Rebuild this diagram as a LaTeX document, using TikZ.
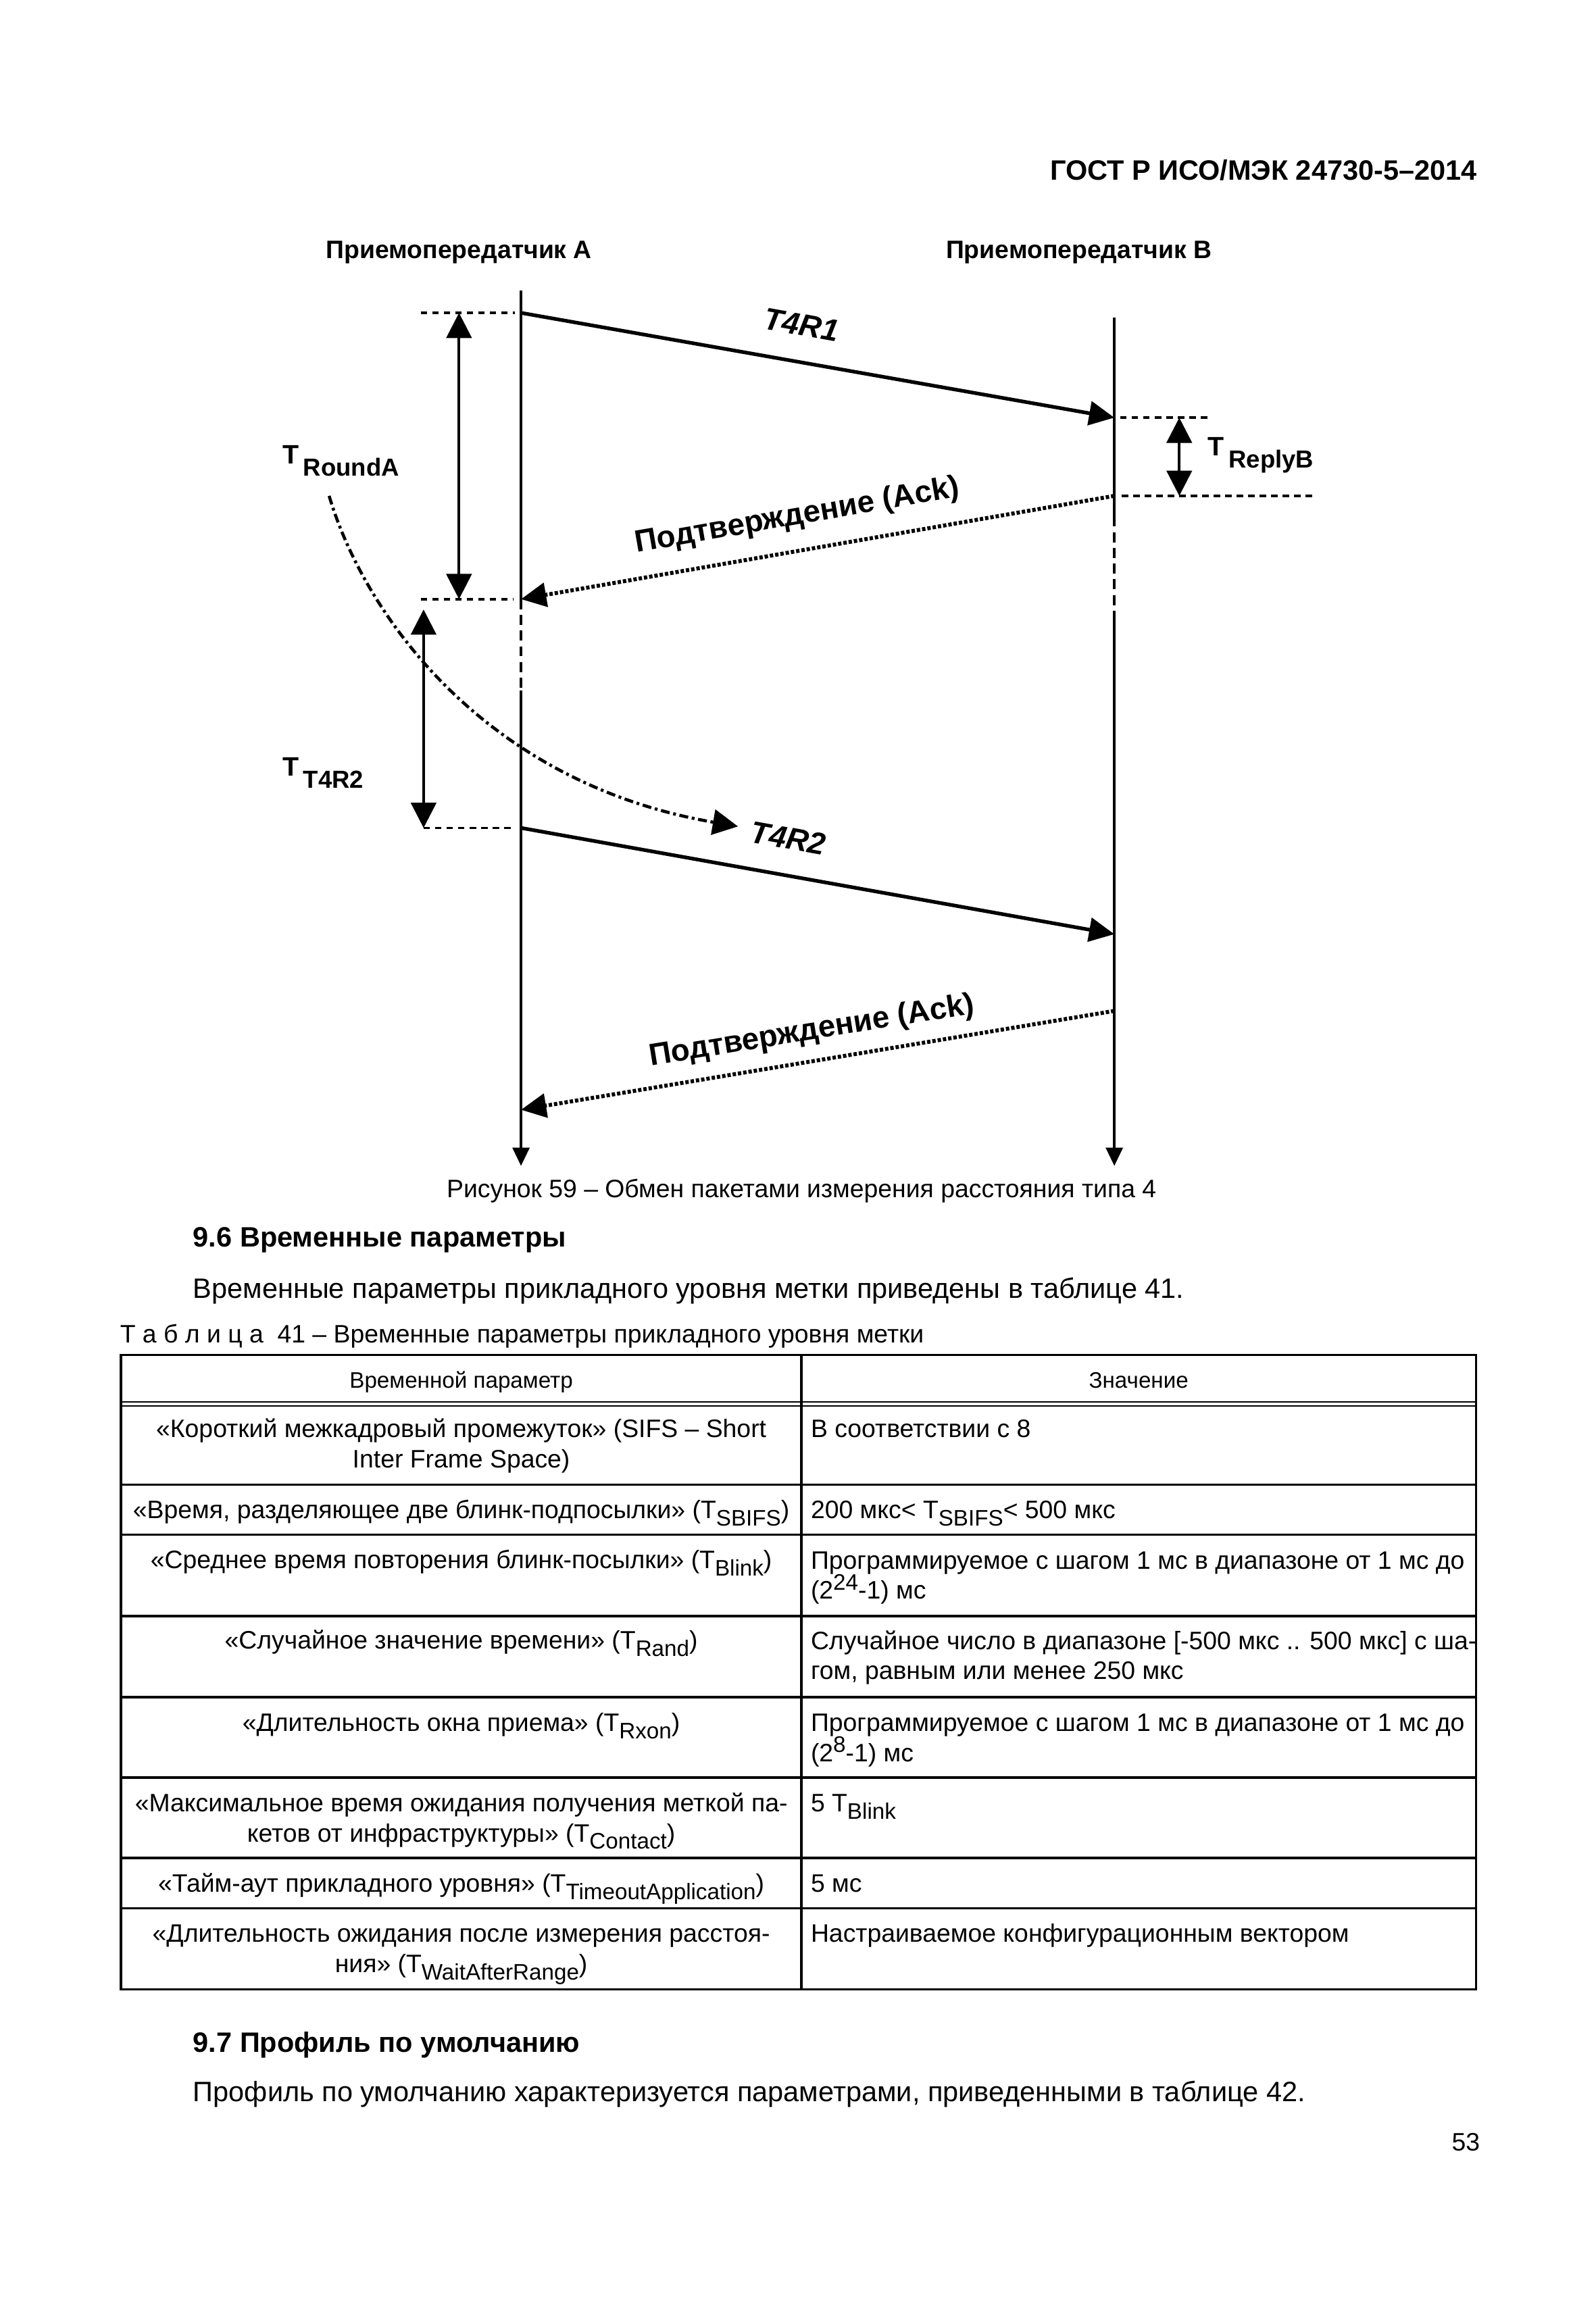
\documentclass[tikz,border=0pt]{standalone}
\usepackage{fontspec}
\setmainfont{Liberation Sans}
\usepackage{tikz}
\usetikzlibrary{arrows.meta, positioning}

\newcommand{\tsb}[1]{\raisebox{-2.6pt}{\fontsize{8}{9}\selectfont #1}}
\newcommand{\tsp}[1]{\raisebox{3.2pt}{\fontsize{8}{9}\selectfont #1}}
\newcommand{\tlab}[1]{T\kern1.6pt\raisebox{-4.2pt}{\fontsize{8.8}{10}\selectfont #1}}

\tikzstyle{lifeline} = [line width=0.9pt, -{Triangle[length=6.5pt,width=6pt]}]
\tikzstyle{waitline} = [line width=0.9pt, dash pattern=on 3.6pt off 2pt]
\tikzstyle{packet} = [line width=1.3pt, -{Triangle[length=9pt,width=8.5pt]}]
\tikzstyle{ack} = [line width=1.4pt, dash pattern=on 1.2pt off 0.7pt, -{Triangle[length=9pt,width=8.5pt]}]
\tikzstyle{guide} = [line width=0.9pt, dash pattern=on 2.3pt off 1.8pt]
\tikzstyle{interval} = [line width=0.95pt, {Triangle[length=9pt,width=9pt]}-{Triangle[length=9pt,width=9pt]}]
\tikzstyle{loopback} = [line width=1.1pt, dash pattern=on 3.2pt off 1.3pt on 1pt off 1.3pt, -{Triangle[length=9pt,width=9pt]}]
\tikzstyle{packetlabel} = [font=\fontsize{11}{13}\selectfont\bfseries\itshape]
\tikzstyle{acklabel} = [font=\fontsize{11}{13}\selectfont\bfseries]
\tikzstyle{timelabel} = [font=\fontsize{9.5}{11}\selectfont\bfseries, anchor=base west, inner sep=0pt]
\tikzstyle{devtitle} = [font=\fontsize{9}{11}\selectfont\bfseries, anchor=base, inner sep=0pt]
\tikzstyle{bodytext} = [font=\fontsize{10}{12}\selectfont, anchor=base west, inner sep=0pt]
\tikzstyle{sectitle} = [font=\fontsize{10}{12}\selectfont\bfseries, anchor=base west, inner sep=0pt]
\tikzstyle{cellc} = [font=\fontsize{9}{10.75}\selectfont, align=center, anchor=base, inner sep=0pt]
\tikzstyle{celll} = [font=\fontsize{9}{10.75}\selectfont, align=left, anchor=base west, inner sep=0pt]
\tikzstyle{tabrule} = [line width=0.8pt]

\begin{document}
\begin{tikzpicture}[x=0.185mm, y=-0.185mm]
\fill[white] (0,0) rectangle (1081,1568);
\useasboundingbox (0,0) rectangle (1081,1568);

\node[sectitle, anchor=base east] (std) at (1001,122) {ГОСТ Р ИСО/МЭК 24730-5–2014};

% transceivers
\node[devtitle] (devA) at (311,175) {Приемопередатчик А};
\node[devtitle] (devB) at (731,175) {Приемопередатчик В};

\coordinate (aTop) at (353,197);
\coordinate (a1) at (353,212);
\coordinate (a2) at (353,406);
\coordinate (aW) at (353,468);
\coordinate (a3) at (353,561);
\coordinate (a4) at (353,752);
\coordinate (aBot) at (353,790);
\coordinate (bTop) at (755,215);
\coordinate (b1) at (755,283);
\coordinate (b2) at (755,336);
\coordinate (bS) at (755,350);
\coordinate (bW) at (755,414);
\coordinate (b3) at (755,633);
\coordinate (b4) at (755,685);
\coordinate (bBot) at (755,790);

\draw[line width=0.9pt] (aTop) -- (a2);
\draw[waitline] (a2) -- (aW);
\draw[lifeline] (aW) -- (aBot);
\draw[line width=0.9pt] (bTop) -- (bS);
\draw[waitline] (bS) -- (bW);
\draw[lifeline] (bW) -- (bBot);

% time marks
\coordinate (g1) at (285,212);
\coordinate (g2) at (285,406);
\coordinate (g3) at (287,561);
\coordinate (g4) at (821,283);
\coordinate (g5) at (889,336);
\draw[guide] (g1) -- (349,212);
\draw[guide] (g2) -- (348,406);
\draw[guide] (g3) -- (349,561);
\draw[guide] (759,283) -- (g4);
\draw[guide] (760,336) -- (g5);

\coordinate (rA1) at (311,212);
\coordinate (rA2) at (311,406);
\coordinate (rB1) at (799,283);
\coordinate (rB2) at (799,336);
\coordinate (rT1) at (287,413);
\coordinate (rT2) at (287,561);
\draw[interval] (rA1) -- (rA2);
\draw[interval] (rB1) -- (rB2);
\draw[interval] (rT1) -- (rT2);

\node[timelabel] (tRound) at (191,314.5) {\tlab{RoundA}};
\node[timelabel] (tReply) at (818,309) {\tlab{ReplyB}};
\node[timelabel] (tT4R2) at (191,526) {\tlab{T4R2}};

% packets
\draw[packet] (a1) -- (b1);
\draw[ack] (b2) -- (a2);
\draw[packet] (a3) -- (b3);
\draw[ack] (b4) -- (a4);
\node[packetlabel, rotate=-10.2] (lT4R1) at (543,220) {T4R1};
\node[acklabel, rotate=9.9] (lAck1) at (540,350) {Подтверждение (Ack)};
\node[packetlabel, rotate=-10.2] (lT4R2) at (534,568) {T4R2};
\node[acklabel, rotate=9.2] (lAck2) at (550,699) {Подтверждение (Ack)};

\coordinate (cStart) at (223,336);
\coordinate (cEnd) at (500,560);
\draw[loopback] (cStart) .. controls (246,414) and (326,530) .. (cEnd);

\node[anchor=base, font=\fontsize{9}{11}\selectfont, inner sep=0pt] (cap) at (543,811.6) {Рисунок 59 – Обмен пакетами измерения расстояния типа 4};

% section 9.6
\node[sectitle] (s96) at (130.5,845) {9.6 Временные параметры};
\node[bodytext] (p96) at (130.5,879.5) {Временные параметры прикладного уровня метки приведены в таблице 41.};
\node[bodytext, font=\fontsize{9}{11}\selectfont] (tcap) at (81,910) {Т а б л и ц а\ \ 41 – Временные параметры прикладного уровня метки};

% table
\draw[tabrule] (82,918) rectangle (1000,1348);
\draw[tabrule] (543,918) -- (543,1348);
\draw[line width=0.4pt] (82,949.8) -- (1000,949.8);
\draw[line width=0.4pt] (82,952.6) -- (1000,952.6);
\foreach \y in {1006,1040,1095,1150,1204.5,1259,1293}
  \draw[tabrule] (82,\y) -- (1000,\y);

\node[cellc, font=\fontsize{8}{10}\selectfont] (h1) at (312.5,940.5) {Временной параметр};
\node[cellc, font=\fontsize{8}{10}\selectfont] (h2) at (771.5,940.5) {Значение};

% two-line cells: base is the last line
\node[cellc] (p1) at (312.5,994.5) {«Короткий межкадровый промежуток» (SIFS – Short\\Inter Frame Space)};
\node[cellc] (p2) at (312.5,1029) {«Время, разделяющее две блинк-подпосылки» (T\tsb{SBIFS})};
\node[cellc] (p3) at (312.5,1063) {«Среднее время повторения блинк-посылки» (T\tsb{Blink})};
\node[cellc] (p4) at (312.5,1117.5) {«Случайное значение времени» (T\tsb{Rand})};
\node[cellc] (p5) at (312.5,1173) {«Длительность окна приема» (T\tsb{Rxon})};
\node[cellc] (p6) at (312.5,1248) {«Максимальное время ожидания получения меткой па-\\кетов от инфраструктуры» (T\tsb{Contact})};
\node[cellc] (p7) at (312.5,1282) {«Тайм-аут прикладного уровня» (T\tsb{TimeoutApplication})};
\node[cellc] (p8) at (312.5,1336.5) {«Длительность ожидания после измерения расстоя-\\ния» (T\tsb{WaitAfterRange})};

\node[celll] (v1) at (549,974) {В соответствии с 8};
\node[celll] (v2) at (549,1029) {200 мкс< T\tsb{SBIFS}< 500 мкс};
\node[celll] (v3) at (549,1083.5) {Программируемое с шагом 1 мс в диапазоне от 1 мс до\\(2\tsp{24}-1) мс};
\node[celll] (v4) at (549,1138) {Случайное число в диапазоне [-500 мкс .. 500 мкс] с ша-\\гом, равным или менее 250 мкс};
\node[celll] (v5) at (549,1193.5) {Программируемое с шагом 1 мс в диапазоне от 1 мс до\\(2\tsp{8}-1) мс};
\node[celll] (v6) at (549,1227.5) {5 T\tsb{Blink}};
\node[celll] (v7) at (549,1282) {5 мс};
\node[celll] (v8) at (549,1316) {Настраиваемое конфигурационным вектором};

% section 9.7
\node[sectitle] (s97) at (130.5,1390.5) {9.7 Профиль по умолчанию};
\node[bodytext] (p97) at (130.5,1424) {Профиль по умолчанию характеризуется параметрами, приведенными в таблице 42.};
\node[bodytext, anchor=base east, font=\fontsize{9}{11}\selectfont] (page) at (1003,1457.6) {53};
\end{tikzpicture}
\end{document}
